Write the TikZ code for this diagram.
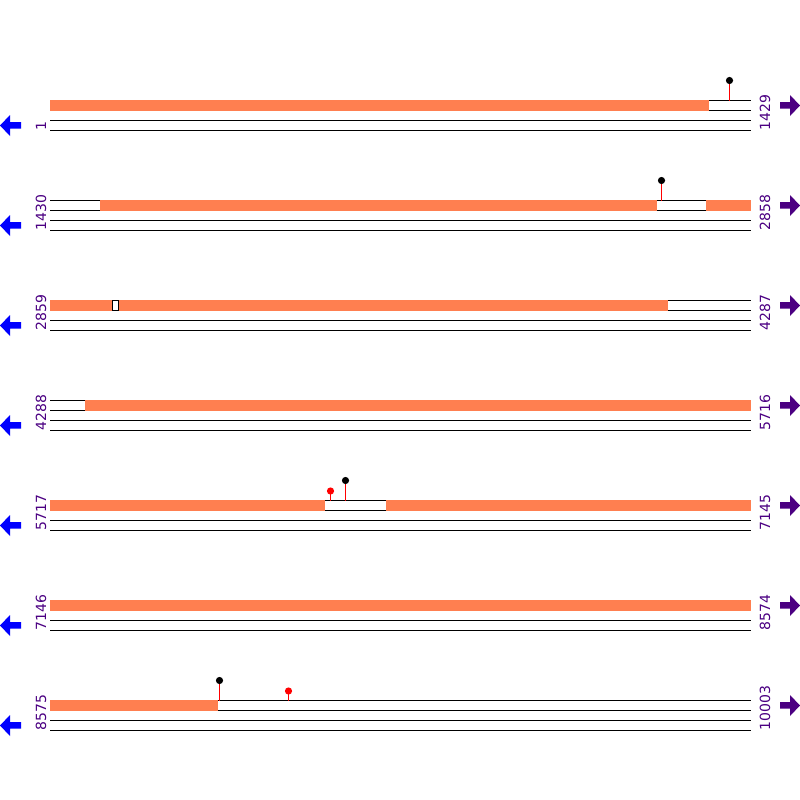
\documentclass[tikz,border=0pt]{standalone}
\usepackage{fontspec}
\newfontfamily\labfont{DejaVu Sans}
\definecolor{coral}{RGB}{255,127,80}
\definecolor{ind}{RGB}{75,0,130}
\begin{document}
\begin{tikzpicture}[x=1pt,y=-1pt,line width=1pt,
  lbl/.style={rotate=90,anchor=west,inner sep=0pt,text=ind,font=\labfont\fontsize{14}{14}\selectfont},
  trackline/.style={draw=black,line width=1pt},
  segbar/.style={fill=coral,draw=none},
  stem/.style={draw=red,line width=1pt},
  larrow/.style={fill=blue,draw=none},
  rarrow/.style={fill=ind,draw=none}]
\useasboundingbox (0,0) rectangle (800,800);
\foreach \r/\a/\b in {0/1/1429,1/1430/2858,2/2859/4287,3/4288/5716,4/5717/7145,5/7146/8574,6/8575/10003}{
  \pgfmathsetmacro{\o}{100*\r}
  \foreach \d in {100.5,110.5,120.5,130.5}{
    \draw[trackline] (50,\o+\d) -- (751,\o+\d);
  }
  \node[lbl] (L\r) at (41,\o+131) {\a};
  \node[lbl] (R\r) at (765,\o+131) {\b};
  \fill[larrow] (0,\o+125.5) -- (10,\o+115) -- (10,\o+122) -- (21,\o+122) -- (21,\o+128.5) -- (10,\o+128.5) -- (10,\o+136) -- cycle;
  \fill[rarrow] (800,\o+105.5) -- (790,\o+95) -- (790,\o+102) -- (780,\o+102) -- (780,\o+108.5) -- (790,\o+108.5) -- (790,\o+116) -- cycle;
}
% orange segments
\foreach \r/\s/\e in {0/50/709,1/100/657,1/706/751,2/50/112,2/119/668,3/85/751,4/50/325,4/386/751,5/50/751,6/50/218}{
  \fill[segbar] (\s,100*\r+100) rectangle (\e,100*\r+111);
}
\draw[trackline] (112.5,300) -- (112.5,311);
\draw[trackline] (118.5,300) -- (118.5,311);
% pins
\foreach \r/\x/\yy/\c in {0/729.5/80.5/black,1/661.5/180.5/black,4/330.5/491/red,4/345.5/480.5/black,6/219.5/680.5/black,6/288.5/691/red}{
  \draw[stem] (\x,\yy) -- (\x,100*\r+100.5);
  \fill[\c] (\x,\yy) circle (3.6);
}
\end{tikzpicture}
\end{document}
